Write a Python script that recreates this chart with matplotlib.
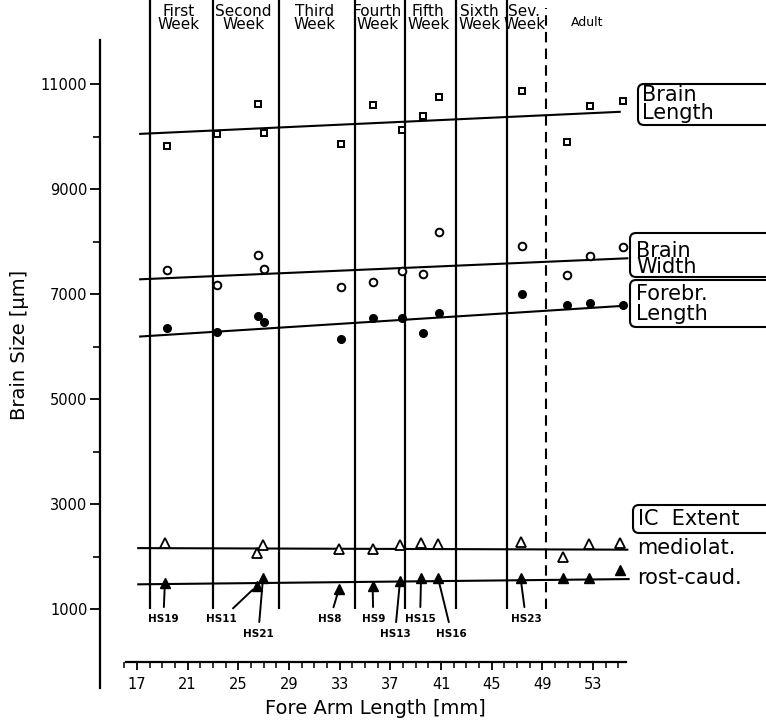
import numpy as np
import matplotlib
matplotlib.use('Agg')
import matplotlib.pyplot as plt
from matplotlib.patches import FancyBboxPatch

# ---- data ----
brain_x = [19.4, 23.3, 26.55, 27.0, 33.1, 35.6, 37.9, 39.6, 40.8, 47.4, 50.9, 52.75, 55.35]
brain_length = [9820, 10050, 10610, 10070, 9860, 10600, 10120, 10390, 10760, 10870, 9900, 10590, 10670]
brain_width = [7460, 7170, 7740, 7470, 7140, 7230, 7430, 7380, 8190, 7910, 7360, 7720, 7890]
forebr_length = [6350, 6270, 6590, 6460, 6140, 6550, 6550, 6250, 6630, 7000, 6800, 6820, 6790]

ic_x = [19.2, 26.45, 26.95, 32.95, 35.6, 37.76, 39.42, 40.76, 47.27, 50.65, 52.68, 55.12]
ic_mediolat = [2250, 2070, 2220, 2140, 2140, 2220, 2250, 2230, 2280, 2000, 2240, 2260]
ic_rostcaud = [1490, 1440, 1600, 1390, 1430, 1540, 1600, 1590, 1600, 1590, 1590, 1740]

# regression lines (end points)
fit_x = [17.25, 55.1]
fit_length = [10050, 10470]
fit_width = [7280, 7680]
fit_forebr = [6190, 6770]
fit_ic_x = [17.1, 55.7]
fit_mediolat = [2160, 2130]
fit_rostcaud = [1470, 1570]

week_bounds = [18.0, 23.0, 28.2, 34.2, 38.15, 42.2, 46.2, 49.3]
week_labels = ['First\nWeek', 'Second\nWeek', 'Third\nWeek', 'Fourth\nWeek',
               'Fifth\nWeek', 'Sixth\nWeek', 'Sev.\nWeek']

hs_names = ['HS19', 'HS11', 'HS21', 'HS8', 'HS9', 'HS13', 'HS15', 'HS16', 'HS23']

# ---- layout ----
W, H = 766, 722
PX_MM = 12.67      # pixels per mm on x
PX_UM = 0.0525     # pixels per um on y


def px2x(px):
    return 17 + (px - 137) / PX_MM


def py2y(py):
    return 11000 - (py - 84) / PX_UM


fig = plt.figure(figsize=(W / 100, H / 100), dpi=100)
ax = fig.add_axes([0, 0, 1, 1])
ax.patch.set_alpha(0)
ax.set_xlim(px2x(0), px2x(W))
ax.set_ylim(py2y(H), py2y(0))

for s in ['top', 'right']:
    ax.spines[s].set_visible(False)
ax.spines['left'].set_position(('data', px2x(100)))
ax.spines['left'].set_bounds(-500, 11840)
ax.spines['bottom'].set_position(('data', 0))
ax.spines['bottom'].set_bounds(16.1, 55.6)
ax.spines['left'].set_linewidth(1.6)
ax.spines['bottom'].set_linewidth(1.6)

ax.set_yticks(np.arange(1000, 12000, 2000))
ax.set_yticks(np.arange(2000, 11000, 2000), minor=True)
ax.set_xticks(np.arange(17, 54, 4))
ax.set_xticks(np.arange(16, 56, 1), minor=True)
ax.tick_params(axis='y', which='major', length=7, width=1.3, pad=2, labelsize=10.5)
ax.tick_params(axis='y', which='minor', length=5, width=1.2)
ax.tick_params(axis='x', which='major', length=6, width=1.3, pad=5, labelsize=10.5)
ax.tick_params(axis='x', which='minor', length=4, width=1.1)

# week separators
ax.vlines(week_bounds[:-1], 1000, py2y(0), colors='k', lw=1.6)
ax.vlines(week_bounds[-1], 1000, py2y(8), colors='k', lw=1.5, linestyles=(0, (5, 3)))
for i, lab in enumerate(week_labels):
    xc = (week_bounds[i] + week_bounds[i + 1]) / 2 - 0.2
    ax.text(xc, py2y(18), lab, ha='center', va='center', fontsize=11, linespacing=0.85)
ax.text(px2x(587), py2y(22), 'Adult', ha='center', va='center', fontsize=9)

# regression lines
ax.plot(fit_x, fit_length, 'k-', lw=1.5)
ax.plot([fit_x[0], 55.7], fit_width, 'k-', lw=1.5)
ax.plot(fit_x, fit_forebr, 'k-', lw=1.5)
ax.plot(fit_ic_x, fit_mediolat, 'k-', lw=1.5)
ax.plot([fit_ic_x[0], 55.8], fit_rostcaud, 'k-', lw=1.5)

# points
ax.plot(brain_x, brain_length, 's', ms=5, mfc='white', mec='k', mew=1.4, zorder=5)
ax.plot(brain_x, brain_width, 'o', ms=5.5, mfc='white', mec='k', mew=1.4, zorder=5)
ax.plot(brain_x, forebr_length, 'o', ms=5.5, mfc='k', mec='k', zorder=5)
ax.plot(ic_x, ic_mediolat, '^', ms=6.5, mfc='white', mec='k', mew=1.3, zorder=5)
ax.plot(ic_x, ic_rostcaud, '^', ms=7, mfc='k', mec='k', zorder=5)

# specimen labels
hs_text_x = [19.08, 23.69, 26.57, 32.23, 35.65, 37.36, 39.34, 41.84, 47.70]
hs_row = [0, 0, 1, 0, 0, 1, 0, 1, 0]
for i, name in enumerate(hs_names):
    ty = py2y(619) if hs_row[i] == 0 else py2y(634)
    ax.annotate(name, xy=(ic_x[i], ic_rostcaud[i]), xytext=(hs_text_x[i], ty),
                ha='center', va='center', fontsize=7.5, fontweight='bold',
                arrowprops=dict(arrowstyle='-', lw=1.4, color='k',
                                shrinkA=3, shrinkB=4), zorder=4)

# boxed series labels on the right
def box(x0, y0, x1, y1):
    p = FancyBboxPatch((x0 / 100, (H - y1) / 100), (x1 - x0) / 100, (y1 - y0) / 100,
                       boxstyle='round,pad=0,rounding_size=0.06',
                       transform=fig.dpi_scale_trans, fill=False, lw=1.5, ec='k')
    fig.add_artist(p)

box(638, 84, 800, 125)
box(630, 233, 800, 277)
box(630, 280, 800, 327)
box(633, 505, 800, 533)

ax.text(px2x(642), py2y(104), 'Brain\nLength', ha='left', va='center', fontsize=15, linespacing=0.85)
ax.text(px2x(636), py2y(259), 'Brain\nWidth', ha='left', va='center', fontsize=15, linespacing=0.8)
ax.text(px2x(636), py2y(304), 'Forebr.\nLength', ha='left', va='center', fontsize=15, linespacing=1.05)
ax.text(px2x(638), py2y(519), 'IC  Extent', ha='left', va='center', fontsize=15)
ax.text(px2x(637), py2y(548), 'mediolat.', ha='left', va='center', fontsize=15)
ax.text(px2x(637), py2y(578), 'rost-caud.', ha='left', va='center', fontsize=15)

# axis titles
ax.text(px2x(375), py2y(708), 'Fore Arm Length [mm]', ha='center', va='center', fontsize=14)
ax.text(px2x(20), py2y(345), 'Brain Size [\u00b5m]', ha='center', va='center',
        fontsize=14, rotation=90)

fig.savefig('out.png', dpi=100)
